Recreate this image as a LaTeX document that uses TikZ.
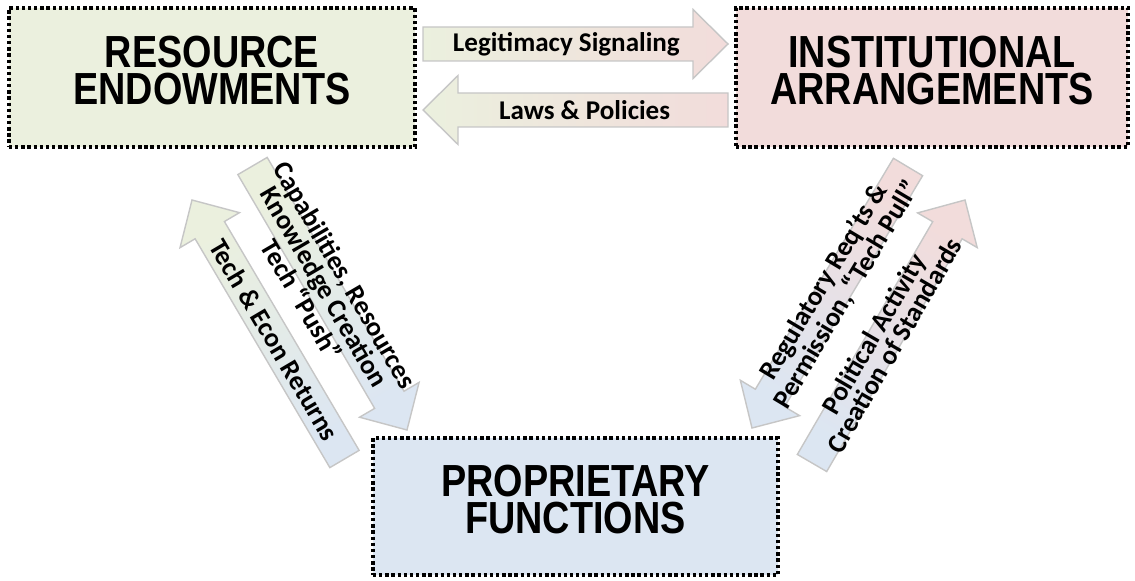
\documentclass[tikz,border=0pt]{standalone}
\usepackage{fontspec}
\usetikzlibrary{calc}
\newfontfamily\boxfont[FakeStretch=0.84]{Liberation Sans}
\newfontfamily\lblfont{Carlito}

\definecolor{resfill}{RGB}{235,240,222}
\definecolor{instfill}{RGB}{242,220,219}
\definecolor{propfill}{RGB}{220,230,242}

% block arrow: style, tail, tip, label, label pos
\newcommand\blockarrow[5]{%
  \coordinate (hb) at ($(#3)!0.7cm!(#2)$);
  \path[#1] ($(#2)!0.34cm!-90:(#3)$) -- ($(hb)!0.34cm!-90:(#3)$)
    -- ($(hb)!0.69cm!-90:(#3)$) -- (#3) -- ($(hb)!0.69cm!90:(#3)$)
    -- ($(hb)!0.34cm!90:(#3)$) -- ($(#2)!0.34cm!90:(#3)$) -- cycle;
  \path (#2) -- node[lbl, sloped, pos=#5] {#4} (#3);
}

\begin{document}
\begin{tikzpicture}[
  box/.style = {draw, line width=1.9pt, dash pattern=on 1.9pt off 1.6pt,
    align=center, minimum height=2.78cm, text depth=0.28cm,
    font=\boxfont\bfseries\fontsize{25.6}{21}\selectfont},
  blk/.style = {draw=gray!45, line width=0.8pt},
  horiz/.style = {blk, left color=resfill, right color=instfill},
  leftdiag/.style = {blk, shading=axis, top color=resfill, bottom color=propfill, shading angle=30.5},
  rightdiag/.style = {blk, shading=axis, top color=instfill, bottom color=propfill, shading angle=-30.5},
  lbl/.style = {align=center, inner sep=0pt,
    font=\lblfont\bfseries\fontsize{15.4}{13.5}\selectfont}
]
\useasboundingbox (0,0) rectangle (22.7,11.6);

% the three boxes
\node [box, fill=resfill, minimum width=8.12cm] (res) at (4.24,10.05)
  {RESOURCE\\ENDOWMENTS};
\node [box, fill=instfill, minimum width=7.84cm] (inst) at (18.64,10.05)
  {INSTITUTIONAL\\ARRANGEMENTS};
\node [box, fill=propfill, minimum width=8.1cm, minimum height=2.74cm] (prop) at (11.51,1.47)
  {PROPRIETARY\\FUNCTIONS};

% arrow ends
\coordinate (legA) at (8.46,10.72);
\coordinate (legB) at (14.56,10.72);
\coordinate (lawA) at (14.56,9.40);
\coordinate (lawB) at (8.46,9.40);
\coordinate (capA) at (5.05,8.28);
\coordinate (capB) at (8.14,3.00);
\coordinate (retA) at (6.89,2.42);
\coordinate (retB) at (3.84,7.60);
\coordinate (regA) at (18.16,8.26);
\coordinate (regB) at (15.04,3.04);
\coordinate (polA) at (16.24,2.34);
\coordinate (polB) at (19.30,7.60);

% top arrows
\blockarrow{horiz}{legA}{legB}{Legitimacy Signaling}{0.47}
\blockarrow{horiz}{lawA}{lawB}{Laws \& Policies}{0.47}

% left arrows
\blockarrow{leftdiag}{capA}{capB}{Capabilities, Resources\\Knowledge Creation\\Tech “Push”}{0.46}
\blockarrow{leftdiag}{retA}{retB}{Tech \& Econ Returns}{0.46}

% right arrows
\blockarrow{rightdiag}{regA}{regB}{Regulatory Req’ts \&\\Permission, “Tech Pull”}{0.465}
\blockarrow{rightdiag}{polA}{polB}{Political Activity\\Creation of Standards}{0.47}

\end{tikzpicture}
\end{document}
